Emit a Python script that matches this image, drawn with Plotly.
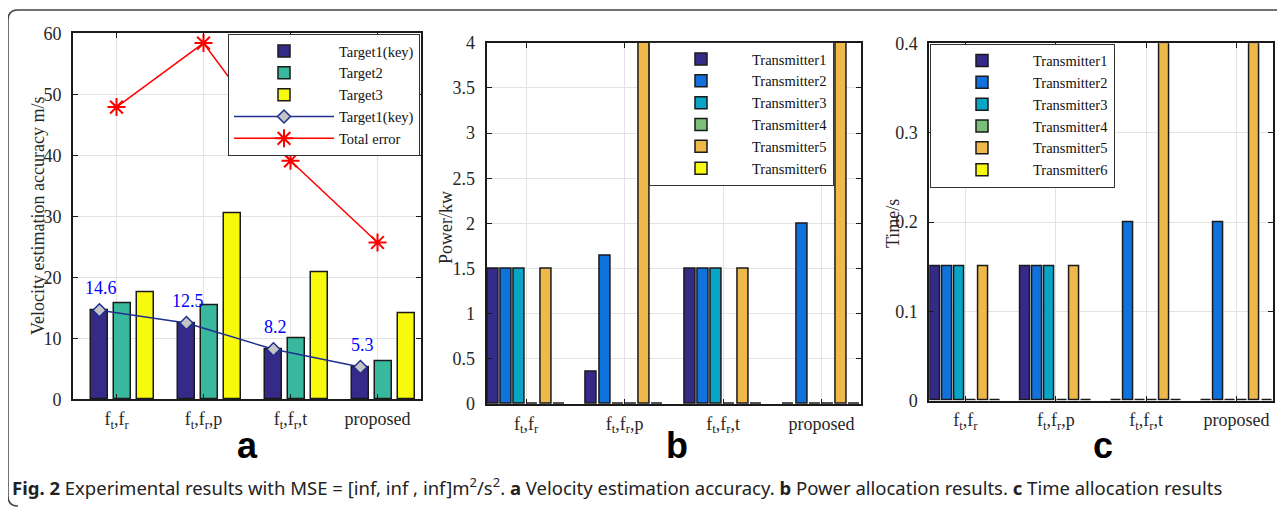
import plotly.graph_objects as go

W, H = 1285, 508
PAGE_OFFSET = 8  # the page body margin shifts the figure by 8px right and down

# ---------------- data ----------------
categories = ["f<sub>t</sub>,f<sub>r</sub>", "f<sub>t</sub>,f<sub>r</sub>,p",
              "f<sub>t</sub>,f<sub>r</sub>,t", "proposed"]
cat_pos = [1, 2, 3, 4]

# panel a : velocity estimation accuracy (m/s)
target_names = ["Target1(key)", "Target2", "Target3"]
target1 = [14.6, 12.5, 8.2, 5.3]
target2 = [15.8, 15.4, 10.0, 6.3]
target3 = [17.5, 30.5, 20.9, 14.1]
total_error = [47.9, 58.4, 39.1, 25.7]
target1_labels = ["14.6", "12.5", "8.2", "5.3"]

# panel b : power allocation (kw)
transmitter_names = ["Transmitter1", "Transmitter2", "Transmitter3",
                     "Transmitter4", "Transmitter5", "Transmitter6"]
power_t1 = [1.5, 0.36, 1.5, 0.0]
power_t2 = [1.5, 1.64, 1.5, 2.0]
power_t3 = [1.5, 0.0, 1.5, 0.0]
power_t4 = [0.0, 0.0, 0.0, 0.0]
power_t5 = [1.5, 4.0, 1.5, 4.0]
power_t6 = [0.0, 0.0, 0.0, 0.0]

# panel c : time allocation (s)
time_t1 = [0.15, 0.15, 0.0, 0.0]
time_t2 = [0.15, 0.15, 0.2, 0.2]
time_t3 = [0.15, 0.15, 0.0, 0.0]
time_t4 = [0.0, 0.0, 0.0, 0.0]
time_t5 = [0.15, 0.15, 0.4, 0.4]
time_t6 = [0.0, 0.0, 0.0, 0.0]

# ---------------- style ----------------
target_colors = ["#352a87", "#38b99e", "#f8fa0d"]
tx_colors = ["#352a87", "#1072dd", "#08a5c6", "#7cbf7b", "#efb84a", "#f8fa0d"]
SERIF = "Liberation Serif"
TXT = "#262626"
EDGE = dict(color="#1a1a1a", width=1.5)

# bar layout (offsets of bar centres from the category position)
a_width = 0.2
a_centres = [-0.196, 0.07, 0.334]
tx_width = 0.11
tx_centres = [-0.335, -0.201, -0.067, 0.067, 0.201, 0.335]


def px(x):
    return (x - PAGE_OFFSET) / W


def py(y):
    return 1 - (y - PAGE_OFFSET) / H


fig = go.Figure()

# ---- panel a ----
for name, vals, col, c in zip(target_names, [target1, target2, target3],
                              target_colors, a_centres):
    fig.add_trace(go.Bar(x=cat_pos, y=vals, name=name, width=a_width,
                         offset=c - a_width / 2, marker=dict(color=col, line=EDGE),
                         xaxis="x", yaxis="y", legend="legend"))

t1_x = [p + a_centres[0] for p in cat_pos]
fig.add_trace(go.Scatter(x=t1_x, y=target1, name="Target1(key)", mode="lines+markers",
                         line=dict(color="#1f2f8f", width=1.5),
                         marker=dict(symbol="diamond", size=10, color="#c4c4c4",
                                     line=dict(color="#1f2f8f", width=1.5)),
                         xaxis="x", yaxis="y", legend="legend"))
fig.add_trace(go.Scatter(x=cat_pos, y=total_error, name="Total error", mode="lines+markers",
                         line=dict(color="#ff0000", width=1.5),
                         marker=dict(symbol="asterisk-open", size=15,
                                     line=dict(color="#ff0000", width=2)),
                         xaxis="x", yaxis="y", legend="legend"))

# ---- panel b ----
for name, vals, col, c in zip(transmitter_names,
                              [power_t1, power_t2, power_t3, power_t4, power_t5, power_t6],
                              tx_colors, tx_centres):
    fig.add_trace(go.Bar(x=cat_pos, y=vals, name=name, width=tx_width,
                         offset=c - tx_width / 2, marker=dict(color=col, line=EDGE),
                         xaxis="x2", yaxis="y2", legend="legend2"))

# ---- panel c ----
for name, vals, col, c in zip(transmitter_names,
                              [time_t1, time_t2, time_t3, time_t4, time_t5, time_t6],
                              tx_colors, tx_centres):
    fig.add_trace(go.Bar(x=cat_pos, y=vals, name=name, width=tx_width,
                         offset=c - tx_width / 2, marker=dict(color=col, line=EDGE),
                         xaxis="x3", yaxis="y3", legend="legend3"))

# ---------------- axes ----------------
def xax(domain, rng, anchor):
    return dict(domain=domain, range=rng, anchor=anchor, tickvals=cat_pos,
                ticktext=categories, showgrid=True, gridcolor="#e3e3e3", gridwidth=1,
                showline=True, linecolor="#1a1a1a", linewidth=2, mirror="allticks",
                ticks="inside", ticklen=5, tickcolor="#1a1a1a", zeroline=False,
                automargin=False, ticklabelstandoff=2,
                tickfont=dict(family=SERIF, size=18, color=TXT), fixedrange=True)


def yax(domain, rng, dtick, anchor):
    return dict(domain=domain, range=rng, dtick=dtick, anchor=anchor, showgrid=True,
                gridcolor="#e3e3e3", gridwidth=1, showline=True, linecolor="#1a1a1a",
                linewidth=2, mirror="allticks", ticks="inside", ticklen=5,
                tickcolor="#1a1a1a", zeroline=False, ticklabelstandoff=6,
                automargin=False,
                tickfont=dict(family=SERIF, size=18, color=TXT), fixedrange=True)


def legend_style(item_w):
    return dict(bgcolor="white", bordercolor="#333333", borderwidth=1,
                font=dict(family=SERIF, size=14.5, color="#111111"),
                tracegroupgap=0, itemwidth=item_w, traceorder="normal")


fig.update_layout(
    width=W, height=H, margin=dict(l=0, r=0, t=0, b=0, autoexpand=False),
    paper_bgcolor="white", plot_bgcolor="white",
    barmode="overlay", bargap=0,
    xaxis=xax([px(73), px(421)], [0.5, 4.5], "y"),
    yaxis=yax([py(399.3), py(33.3)], [0, 60], 10, "x"),
    xaxis2=xax([px(486.7), px(861)], [0.6, 4.4], "y2"),
    yaxis2=yax([py(404), py(42.7)], [0, 4], 0.5, "x2"),
    xaxis3=xax([px(929.3), px(1272.7)], [0.6, 4.4], "y3"),
    yaxis3=yax([py(400.7), py(43.3)], [0, 0.4], 0.1, "x3"),
    legend=dict(x=px(420), y=py(34), xanchor="right", yanchor="top", **legend_style(100)),
    legend2=dict(x=px(834), y=py(42), xanchor="right", yanchor="top", **legend_style(92)),
    legend3=dict(x=px(930), y=py(43.5), xanchor="left", yanchor="top", **legend_style(92)),
    showlegend=True,
)

ann = []
# value labels on Target1 line
for x, y, t in zip(t1_x, target1, target1_labels):
    ann.append(dict(x=x, y=y, xref="x", yref="y", text=t, showarrow=False, yshift=22,
                    xshift=2, xanchor="center", yanchor="middle",
                    font=dict(family=SERIF, size=18, color="#0000ff")))
# axis titles
ann.append(dict(x=px(38), y=py(216), xref="paper", yref="paper", showarrow=False,
                xanchor="center", yanchor="middle",
                text="Velocity estimation accuracy m/s", textangle=-90,
                font=dict(family=SERIF, size=18, color=TXT)))
ann.append(dict(x=px(446), y=py(228), xref="paper", yref="paper", showarrow=False,
                xanchor="center", yanchor="middle",
                text="Power/kw", textangle=-90, font=dict(family=SERIF, size=18, color=TXT)))
ann.append(dict(x=px(893), y=py(224), xref="paper", yref="paper", showarrow=False,
                xanchor="center", yanchor="middle",
                text="Time/s", textangle=-90, font=dict(family=SERIF, size=18, color=TXT)))
# panel letters
for lx, lt in [(247, "a"), (677, "b"), (1103, "c")]:
    ann.append(dict(x=px(lx), y=py(445), xref="paper", yref="paper", showarrow=False,
                    xanchor="center", yanchor="middle",
                    text="<b>%s</b>" % lt,
                    font=dict(family="Liberation Sans", size=36, color="#000000")))
# caption
ann.append(dict(x=px(10), y=py(486), xref="paper", yref="paper", showarrow=False,
                xanchor="left", yanchor="middle",
                text="<b>Fig. 2</b> Experimental results with MSE = [inf, inf , inf]m<sup>2</sup>/s<sup>2</sup>. "
                     "<b>a</b> Velocity estimation accuracy. <b>b</b> Power allocation results. "
                     "<b>c</b> Time allocation results",
                font=dict(family="Noto Sans", size=18.5, color="#222222")))
fig.update_layout(annotations=ann)

# rounded outer frame (top + left edges)
frame = ("M %f,%f L %f,%f Q %f,%f %f,%f L %f,%f" % (
    px(8), py(496), px(8), py(20), px(8), py(10), px(18), py(10), px(1293), py(10)))
fig.add_shape(type="path", path=frame, xref="paper", yref="paper",
              line=dict(color="#444444", width=1.5))
fig.add_shape(type="path",
              path="M %f,%f Q %f,%f %f,%f" % (px(8), py(496), px(8), py(506), px(18), py(506)),
              xref="paper", yref="paper", line=dict(color="#444444", width=1.5))

fig.write_html("out.html")
